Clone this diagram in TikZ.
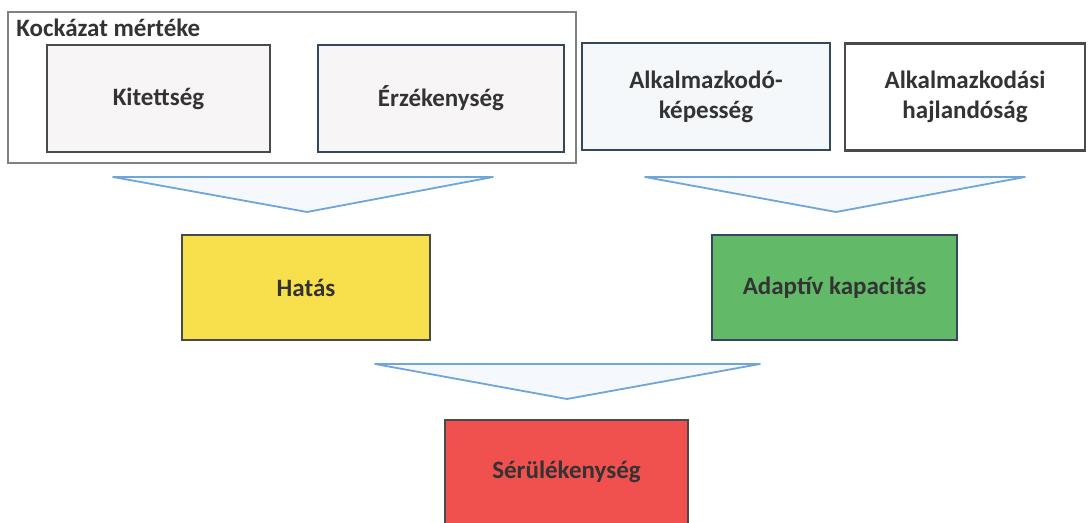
\documentclass[tikz,border=0pt]{standalone}
\usepackage{fontspec}
\setmainfont{Carlito}
\definecolor{boxline}{HTML}{34485A}
\definecolor{greyline}{HTML}{4A4A4A}
\definecolor{paleleft}{HTML}{F7F5F6}
\definecolor{paleright}{HTML}{F4F8FA}
\definecolor{hatasyellow}{HTML}{F8E04C}
\definecolor{adaptgreen}{HTML}{62BA68}
\definecolor{serulred}{HTML}{F0514F}
\definecolor{chevline}{HTML}{6EA6DA}
\definecolor{chevfill}{HTML}{F5F9FD}
\definecolor{txt}{HTML}{333333}
\tikzset{
  factor/.style={draw=boxline, line width=1.2pt, fill=paleright, text=txt,
    font=\fontsize{12.5}{15}\bfseries\selectfont, align=center,
    minimum height=53.5pt, inner sep=2pt},
  result/.style={factor, minimum height=52.5pt},
  chevron/.style={draw=chevline, fill=chevfill, line width=0.9pt, line join=round}
}
\begin{document}
\begin{tikzpicture}[x=0.5pt,y=-0.5pt]
\useasboundingbox (0,0) rectangle (1092,523);
% risk group
\draw[greyline!70, line width=0.8pt] (8,12) rectangle (576,163);
\node[anchor=north west, inner sep=0pt, text=txt,
  font=\fontsize{12.5}{15}\bfseries\selectfont] (risk) at (16,19) {Kockázat mértéke};
% upper row
\node[factor, draw=greyline, fill=paleleft, minimum width=111.5pt] (kitett) at (158.5,98.5) {Kitettség};
\node[factor, fill=paleleft, minimum width=123pt] (erzek) at (441,98.5) {Érzékenység};
\node[factor, minimum width=124pt] (kepes) at (706,96.5) {Alkalmazkodó-\\képesség};
\node[factor, draw=greyline, fill=white, minimum width=120pt] (hajland) at (965,97) {Alkalmazkodási\\hajlandóság};
% chevrons
\draw[chevron] (113,177) -- (493,177) -- (307,212) -- cycle;
\draw[chevron] (645,177) -- (1025,177) -- (836,212) -- cycle;
% middle row
\node[result, draw=greyline, fill=hatasyellow, minimum width=124pt] (hatas) at (306,287.5) {Hatás};
\node[result, fill=adaptgreen, minimum width=122.5pt] (adapt) at (834.5,287.5) {Adaptív kapacitás};
\draw[chevron] (375,364) -- (760,364) -- (567,399) -- cycle;
% bottom
\node[result, draw=greyline, fill=serulred, minimum width=121.5pt, minimum height=52pt] (serul) at (566.5,472) {Sérülékenység};
\end{tikzpicture}
\end{document}
